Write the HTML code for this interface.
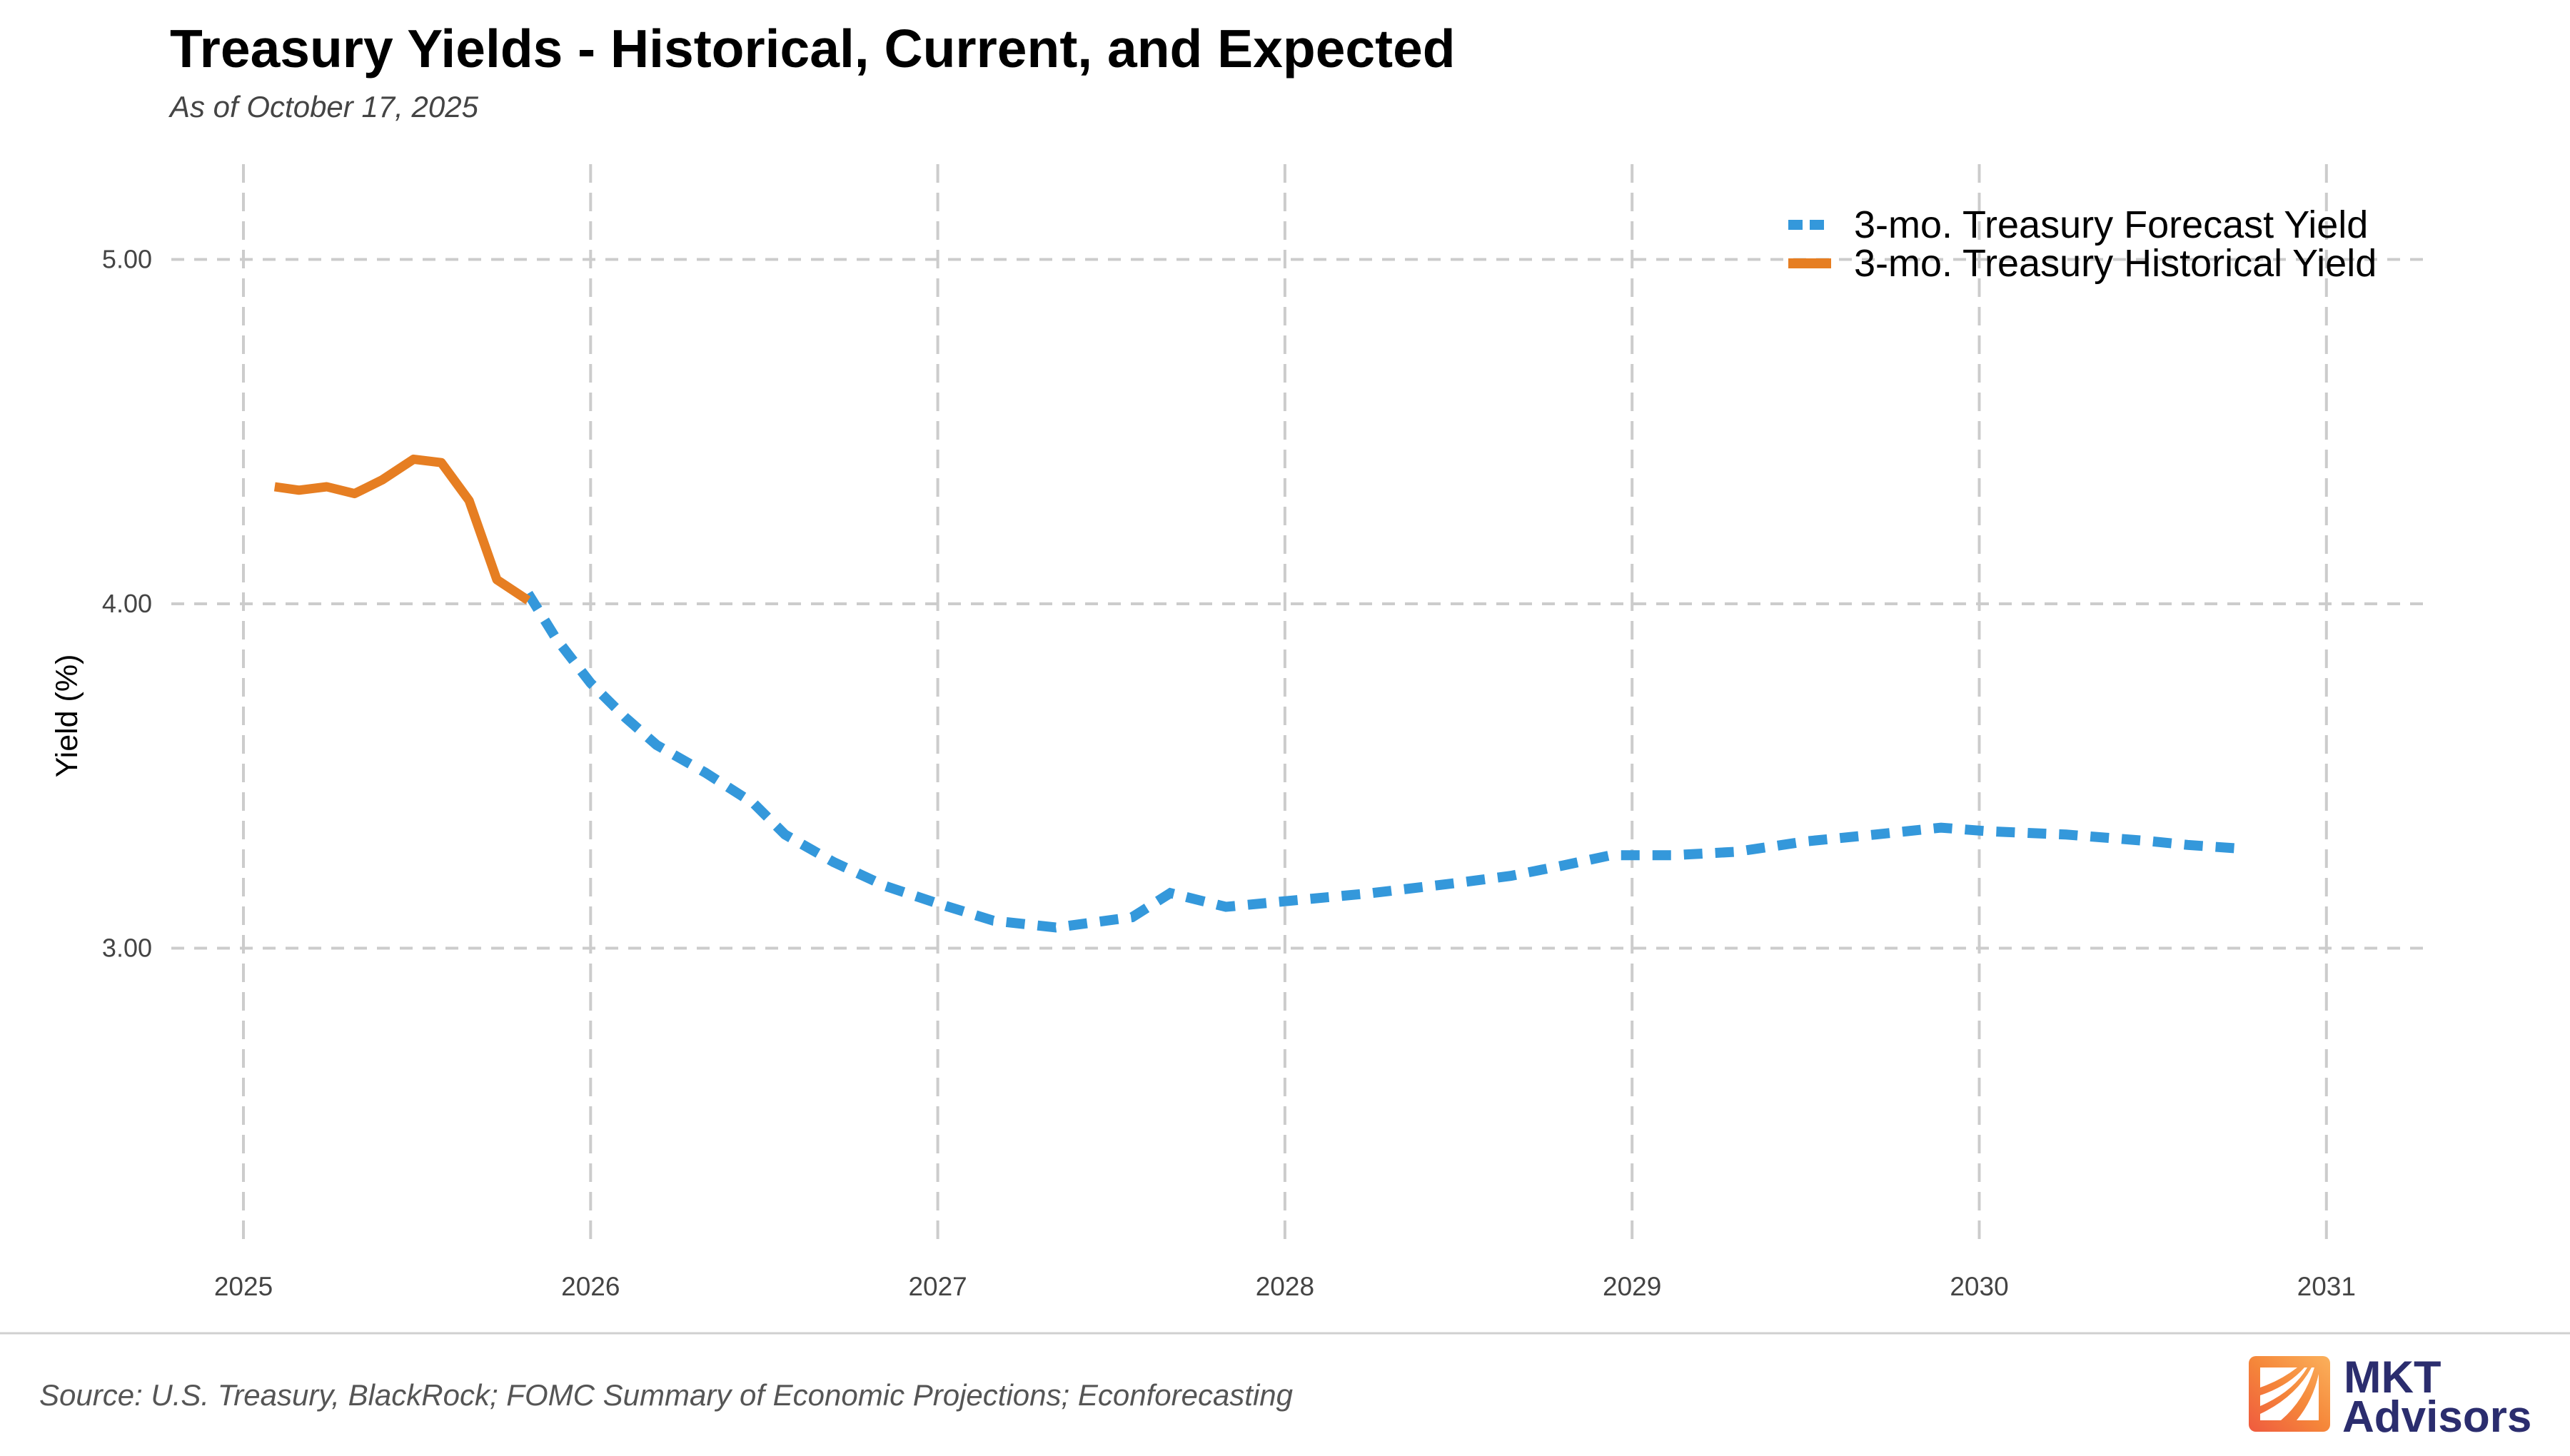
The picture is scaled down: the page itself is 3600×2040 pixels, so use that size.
<!DOCTYPE html>
<html><head><meta charset="utf-8"><style>
html,body{margin:0;padding:0;background:#fff;}
svg{display:block;font-family:"Liberation Sans",sans-serif;}
</style></head><body>
<svg id="chart" width="3600" height="2040" viewBox="0 0 3600 2040" xmlns="http://www.w3.org/2000/svg">
<rect width="3600" height="2040" fill="#fff"/>
<text x="238" y="94" font-size="75" font-weight="bold" fill="#000">Treasury Yields - Historical, Current, and Expected</text>
<text x="238" y="164" font-size="42" font-style="italic" fill="#444">As of October 17, 2025</text>
<g id="grid"></g>
<g id="axes"></g>
<text transform="translate(108,1003) rotate(-90)" text-anchor="middle" font-size="43" fill="#000">Yield (%)</text>
<g id="series"></g>
<g>
  <g>
    <line x1="2505" y1="315" x2="2565" y2="315" stroke="#3498db" stroke-width="14" stroke-dasharray="20 10"/>
    <text x="2597" y="333" font-size="54" fill="#000">3-mo. Treasury Forecast Yield</text>
  </g>
  <g>
    <line x1="2505" y1="369" x2="2565" y2="369" stroke="#e67e22" stroke-width="14"/>
    <text x="2597" y="387" font-size="54" fill="#000">3-mo. Treasury Historical Yield</text>
  </g>
</g>
<line x1="0" y1="1868" x2="3600" y2="1868" stroke="#d0d0d0" stroke-width="3"/>
<text x="55" y="1969" font-size="42" font-style="italic" fill="#555">Source: U.S. Treasury, BlackRock; FOMC Summary of Economic Projections; Econforecasting</text>
<g>
  <defs><linearGradient id="lg" x1="0" y1="1" x2="1" y2="0"><stop offset="0" stop-color="#ef5a3f"/><stop offset="0.5" stop-color="#f5873a"/><stop offset="1" stop-color="#fbb15c"/></linearGradient></defs>
  <rect x="3150" y="1900" width="114" height="106" rx="10" fill="url(#lg)"/>
  <path d="M3166 1916 L3218 1916 Q3195 1934 3166 1944 Z" fill="#fff"/>
  <path d="M3166 1955 Q3205 1942 3228 1916 L3232 1916 Q3212 1950 3166 1970 Z" fill="#fff"/>
  <path d="M3166 1981 Q3215 1958 3238 1916 L3242 1916 Q3228 1962 3195 1990 L3166 1990 Z" fill="#fff"/>
  <path d="M3248 1925 L3248 1990 L3217 1990 Q3240 1962 3248 1925 Z" fill="#fff"/>
  <text x="3283" y="1951" font-size="63" font-weight="bold" fill="#2b2d6e">MKT</text>
  <text x="3281" y="2006" font-size="62" font-weight="bold" fill="#2b2d6e">Advisors</text>
</g>
</svg>
<script>
const histYears = [2025.09,2025.16,2025.24,2025.32,2025.40,2025.49,2025.57,2025.65,2025.73,2025.82];
const histValues = [4.34,4.33,4.34,4.32,4.36,4.42,4.41,4.30,4.07,4.01];
const fcYears = [2025.82,2025.90,2026.00,2026.10,2026.19,2026.33,2026.47,2026.56,2026.70,2026.85,2027.00,2027.16,2027.34,2027.56,2027.67,2027.83,2028.04,2028.25,2028.50,2028.65,2028.80,2028.94,2029.12,2029.30,2029.50,2029.70,2029.89,2030.02,2030.25,2030.50,2030.60,2030.74];
const fcValues = [4.03,3.90,3.77,3.67,3.59,3.51,3.42,3.33,3.25,3.18,3.13,3.08,3.06,3.09,3.16,3.12,3.14,3.16,3.19,3.21,3.24,3.27,3.27,3.28,3.31,3.33,3.35,3.34,3.33,3.31,3.30,3.29];
const xTicks = [2025,2026,2027,2028,2029,2030,2031];
const yTicks = [3,4,5];
const yTickLabels = ["3.00","4.00","5.00"];

const NS = "http://www.w3.org/2000/svg";
function xs(t){return 341 + (t-2025)*486.3;}
function ys(v){return 846 - (v-4)*482.5;}
function mk(tag, attrs, parent){const e=document.createElementNS(NS,tag);for(const k in attrs)e.setAttribute(k,attrs[k]);parent.appendChild(e);return e;}
const grid=document.getElementById('grid'), axes=document.getElementById('axes'), series=document.getElementById('series');
xTicks.forEach(t=>{
  const l=mk('line',{x1:xs(t),x2:xs(t),y1:230,y2:1745,stroke:'#cccccc','stroke-width':4,'stroke-dasharray':'26 14'},grid);
  
  
  const tx=mk('text',{x:xs(t),y:1815,'text-anchor':'middle','font-size':37,fill:'#444'},axes);
  tx.textContent=t;
  
  
});
yTicks.forEach((v,i)=>{
  const l=mk('line',{x1:240,x2:3400,y1:ys(v),y2:ys(v),stroke:'#cccccc','stroke-width':4,'stroke-dasharray':'18 14'},grid);
  
  
  const tx=mk('text',{x:213,y:ys(v)+12,'text-anchor':'end','font-size':36,fill:'#444'},axes);
  tx.textContent=yTickLabels[i];
  
  
});
function pts(xa,va){return xa.map((t,i)=>xs(t).toFixed(1)+','+ys(va[i]).toFixed(1)).join(' ');}
const fc=mk('polyline',{points:pts(fcYears,fcValues),fill:'none',stroke:'#3498db','stroke-width':14,'stroke-dasharray':'26 18'},series);


const hi=mk('polyline',{points:pts(histYears,histValues),fill:'none',stroke:'#e67e22','stroke-width':13,'stroke-linejoin':'round'},series);


</script>
</body></html>
